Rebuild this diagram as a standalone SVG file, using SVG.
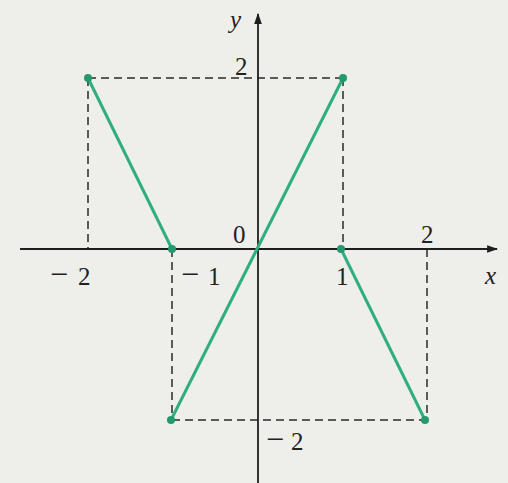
<svg xmlns="http://www.w3.org/2000/svg" width="508" height="483" viewBox="0 0 508 483">
<defs>
<style>
.ax{stroke:#1e1e1e;stroke-width:1.8;fill:none}
.dash{stroke:#2a2a2a;stroke-width:1.5;stroke-dasharray:8,5;fill:none}
.g{stroke:#2fae7f;stroke-width:3;fill:none;stroke-linecap:round}
.dot{fill:#239a6c}
.t{font-family:"Liberation Serif","Times New Roman",serif;font-size:25px;fill:#222}
.i{font-style:italic}
.m{font-size:32px}
</style>
<marker id="arr" viewBox="0 0 10 10" refX="9" refY="5" markerWidth="11" markerHeight="11" markerUnits="userSpaceOnUse" orient="auto">
<path d="M0,1.5 L10,5 L0,8.5 Z" fill="#1e1e1e"/>
</marker>
</defs>
<rect width="508" height="483" fill="#eeeeeb"/>
<g id="grid">
<path class="dash" d="M88,78 H343 M88,78 V249 M343,78 V249 M172,249 V420 M427,249 V420 M172,420 H427"/>
</g>
<g id="axes">
<line class="ax" x1="20" y1="249" x2="497" y2="249" marker-end="url(#arr)"/>
<line class="ax" x1="258" y1="483" x2="258" y2="14" marker-end="url(#arr)"/>
</g>
<g id="connectors">
<line class="g" x1="88" y1="78" x2="172" y2="249"/>
<line class="g" x1="171" y1="420" x2="343" y2="78"/>
<line class="g" x1="341" y1="249" x2="425" y2="420"/>
</g>
<g id="points">
<circle class="dot" cx="88" cy="78" r="4"/>
<circle class="dot" cx="343" cy="78" r="4"/>
<circle class="dot" cx="172" cy="249" r="4"/>
<circle class="dot" cx="341" cy="249" r="4"/>
<circle class="dot" cx="171" cy="420" r="4"/>
<circle class="dot" cx="425" cy="420" r="4"/>
</g>
<g id="labels">
<text class="t i" x="230" y="28">y</text>
<text class="t i" x="485" y="284">x</text>
<text class="t" x="235" y="75">2</text>
<text class="t" x="233" y="243">0</text>
<text class="t" x="421" y="243">2</text>
<text class="t" x="336" y="285">1</text>
<text class="t" y="285"><tspan class="m" x="50">−</tspan><tspan x="78">2</tspan></text>
<text class="t" y="285"><tspan class="m" x="181">−</tspan><tspan x="208">1</tspan></text>
<text class="t" y="450"><tspan class="m" x="266">−</tspan><tspan x="291">2</tspan></text>
</g>
</svg>
